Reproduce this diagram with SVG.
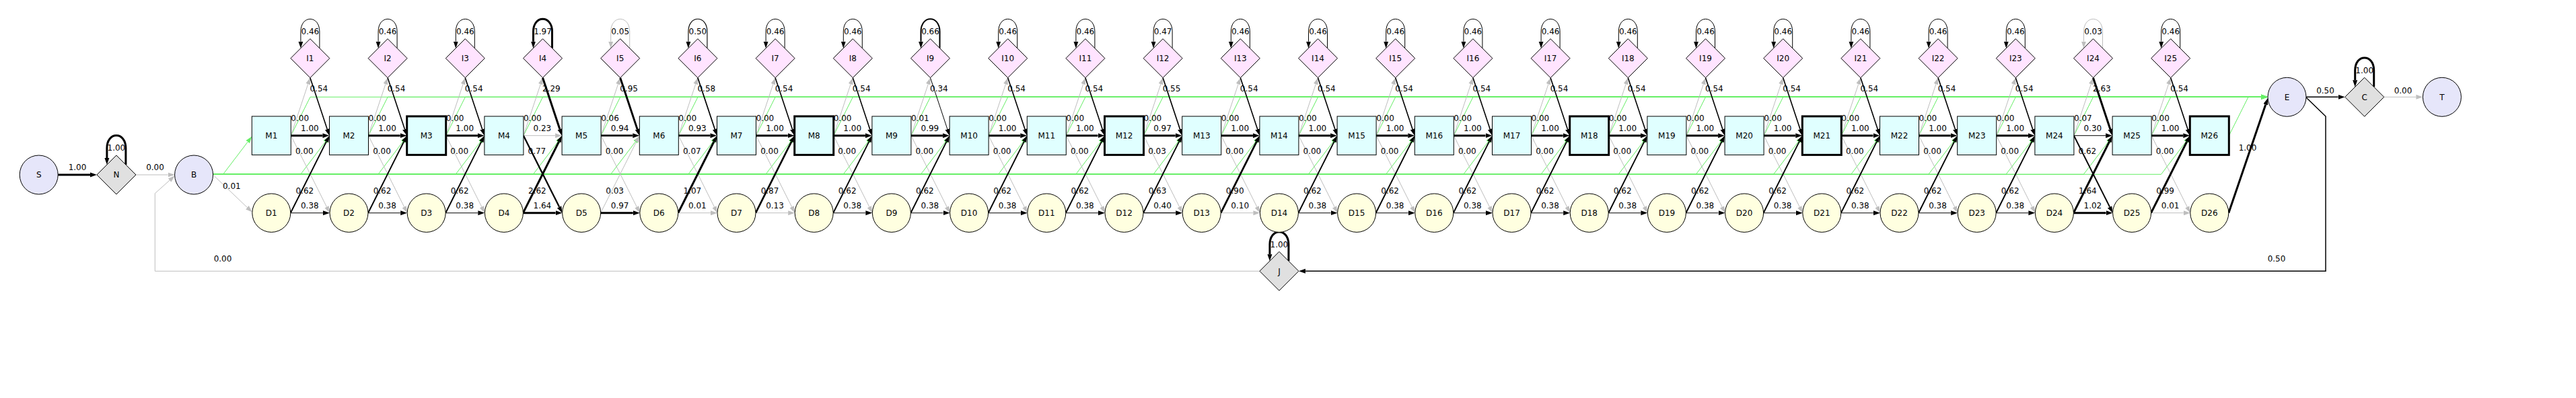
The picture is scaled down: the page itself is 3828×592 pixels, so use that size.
<svg xmlns="http://www.w3.org/2000/svg" width="3828" height="592" viewBox="0 0 3828 592">
<style>
text{font-family:"DejaVu Sans","Liberation Sans",sans-serif;font-size:12px;text-anchor:middle;fill:#000}
.c path{fill:none}
.bk{stroke:#000;marker-end:url(#ab)}
.gr{stroke:#bebebe;stroke-width:1;marker-end:url(#ag)}
.gn path{stroke:#66ee66;stroke-width:1;marker-end:url(#an)}
.m rect{fill:#e0ffff;stroke:#000;stroke-width:1}
.mb rect{stroke-width:3}
.d ellipse{fill:#ffffe0;stroke:#000;stroke-width:1}
.i polygon{fill:#ffe4ff;stroke:#000;stroke-width:1}
.l ellipse{fill:#e6e6fa;stroke:#000;stroke-width:1}
.x polygon{fill:#e0e0e0;stroke:#000;stroke-width:1}
</style>
<defs>
<marker id="ab" markerUnits="userSpaceOnUse" markerWidth="10" markerHeight="8" viewBox="0 -4 10 8" refX="0" refY="0" orient="auto"><path d="M0,-3.5 L10,0 L0,3.5 z" fill="#000"/></marker>
<marker id="ag" markerUnits="userSpaceOnUse" markerWidth="10" markerHeight="8" viewBox="0 -4 10 8" refX="0" refY="0" orient="auto"><path d="M0,-3.5 L10,0 L0,3.5 z" fill="#bebebe"/></marker>
<marker id="an" markerUnits="userSpaceOnUse" markerWidth="10" markerHeight="8" viewBox="0 -4 10 8" refX="0" refY="0" orient="auto"><path d="M0,-3.5 L10,0 L0,3.5 z" fill="#66ee66"/></marker>
</defs>
<rect width="3828" height="592" fill="#fff"/>
<g id="connectors" class="c">
<g id="green" class="gn">
<path d="M317.3,259.3 L331.5,259.3 L368.2,211"/><path d="M432.3,201.7 L461,144.3 L3360,144.3"/>
<path d="M317.3,259.3 L446.7,259.3 L483.4,211"/><path d="M547.5,201.7 L576.2,144.3 L3360,144.3"/>
<path d="M317.3,259.3 L561.9,259.3 L598.6,211"/><path d="M662.7,201.7 L691.4,144.3 L3360,144.3"/>
<path d="M317.3,259.3 L677.1,259.3 L713.8,211"/><path d="M777.9,201.7 L806.6,144.3 L3360,144.3"/>
<path d="M317.3,259.3 L792.3,259.3 L829,211"/><path d="M893.1,201.7 L921.8,144.3 L3360,144.3"/>
<path d="M317.3,259.3 L907.5,259.3 L944.2,211"/><path d="M1008.3,201.7 L1037,144.3 L3360,144.3"/>
<path d="M317.3,259.3 L1022.7,259.3 L1059.4,211"/><path d="M1123.5,201.7 L1152.2,144.3 L3360,144.3"/>
<path d="M317.3,259.3 L1137.9,259.3 L1174.6,211"/><path d="M1238.7,201.7 L1267.4,144.3 L3360,144.3"/>
<path d="M317.3,259.3 L1253.1,259.3 L1289.8,211"/><path d="M1353.9,201.7 L1382.6,144.3 L3360,144.3"/>
<path d="M317.3,259.3 L1368.3,259.3 L1405,211"/><path d="M1469.1,201.7 L1497.8,144.3 L3360,144.3"/>
<path d="M317.3,259.3 L1483.5,259.3 L1520.2,211"/><path d="M1584.3,201.7 L1613,144.3 L3360,144.3"/>
<path d="M317.3,259.3 L1598.7,259.3 L1635.4,211"/><path d="M1699.5,201.7 L1728.2,144.3 L3360,144.3"/>
<path d="M317.3,259.3 L1713.9,259.3 L1750.6,211"/><path d="M1814.7,201.7 L1843.4,144.3 L3360,144.3"/>
<path d="M317.3,259.3 L1829.1,259.3 L1865.8,211"/><path d="M1929.9,201.7 L1958.6,144.3 L3360,144.3"/>
<path d="M317.3,259.3 L1944.3,259.3 L1981,211"/><path d="M2045.1,201.7 L2073.8,144.3 L3360,144.3"/>
<path d="M317.3,259.3 L2059.5,259.3 L2096.2,211"/><path d="M2160.3,201.7 L2189,144.3 L3360,144.3"/>
<path d="M317.3,259.3 L2174.7,259.3 L2211.4,211"/><path d="M2275.5,201.7 L2304.2,144.3 L3360,144.3"/>
<path d="M317.3,259.3 L2289.9,259.3 L2326.6,211"/><path d="M2390.7,201.7 L2419.4,144.3 L3360,144.3"/>
<path d="M317.3,259.3 L2405.1,259.3 L2441.8,211"/><path d="M2505.9,201.7 L2534.6,144.3 L3360,144.3"/>
<path d="M317.3,259.3 L2520.3,259.3 L2557,211"/><path d="M2621.1,201.7 L2649.8,144.3 L3360,144.3"/>
<path d="M317.3,259.3 L2635.5,259.3 L2672.2,211"/><path d="M2736.3,201.7 L2765,144.3 L3360,144.3"/>
<path d="M317.3,259.3 L2750.7,259.3 L2787.4,211"/><path d="M2851.5,201.7 L2880.2,144.3 L3360,144.3"/>
<path d="M317.3,259.3 L2865.9,259.3 L2902.6,211"/><path d="M2966.7,201.7 L2995.4,144.3 L3360,144.3"/>
<path d="M317.3,259.3 L2981.1,259.3 L3017.8,211"/><path d="M3081.9,201.7 L3110.6,144.3 L3360,144.3"/>
<path d="M317.3,259.3 L3096.3,259.3 L3133,211"/><path d="M3197.1,201.7 L3225.8,144.3 L3360,144.3"/>
<path d="M317.3,259.3 L3211.5,259.3 L3248.2,211"/><path d="M3312.3,201.7 L3341,144.3 L3360,144.3"/>
</g>
<g id="S-N"><path class="bk" stroke-width="3" d="M86.2,260 L134,260"/><text x="115" y="252.7">1.00</text></g>
<g id="N-N" transform="translate(172.9,260)"><path class="bk" stroke-width="3" d="M14,-15 L14,-39.7 C14,-51.7 7.4,-58.4 0,-58.4 C-7.4,-58.4 -14,-51.7 -14,-39.7 L-14,-25"/><text y="-35.7">1.00</text></g>
<g id="N-B"><path class="gr" d="M201.9,260 L249.6,260"/><text x="230.5" y="252.7">0.00</text></g>
<g id="B-D1"><path class="gr" d="M318.3,261.7 L367.4,308.6"/><text x="344.3" y="281">0.01</text></g>
<g id="J-B"><path class="gr" d="M1871.9,403.3 L230.3,403.3 L230.3,287.7 L252.1,268.2"/><text x="331" y="388.7">0.00</text></g>
<g id="J-J" transform="translate(1900.9,403.3)"><path class="bk" stroke-width="3" d="M14,-15 L14,-39.7 C14,-51.7 7.4,-58.4 0,-58.4 C-7.4,-58.4 -14,-51.7 -14,-39.7 L-14,-25"/><text y="-35.7">1.00</text></g>
<g id="E-J"><path class="bk" stroke-width="1.5" d="M3427,145 L3456,173 L3456,403.3 L1939.9,403.3"/><text x="3383" y="388.7">0.50</text></g>
<g id="E-C"><path class="bk" stroke-width="1.5" d="M3427,144.3 L3474.7,144.3"/><text x="3455.5" y="139">0.50</text></g>
<g id="C-C" transform="translate(3513.7,144.3)"><path class="bk" stroke-width="3" d="M14,-15 L14,-39.7 C14,-51.7 7.4,-58.4 0,-58.4 C-7.4,-58.4 -14,-51.7 -14,-39.7 L-14,-25"/><text y="-35.7">1.00</text></g>
<g id="C-T"><path class="gr" d="M3542.7,144.3 L3590.4,144.3"/><text x="3571" y="139">0.00</text></g>
<g id="D26-E"><path class="bk" stroke-width="3" d="M3311.8,316.7 L3366.8,155.5"/><text x="3340" y="224.4">1.00</text></g>

<g id="col1" transform="translate(403.3,0)">
<path class="bk" stroke-width="1" d="M71.6,71.7 L71.6,47 C71.6,35 65,28.3 57.6,28.3 C50.2,28.3 43.6,35 43.6,47 L43.6,61.7"/><text x="57.6" y="51">0.46</text>
<path class="gr" d="M29,201.7 L54.4,125.2"/><text x="42.4" y="180">0.00</text>
<path class="gr" d="M29,201.7 L82.2,307.8"/><text x="49" y="228.7">0.00</text>
<path class="bk" stroke-width="3" d="M29,201.7 L76.2,201.7"/><text x="57" y="195">1.00</text>
<path class="bk" stroke-width="1.6" d="M57.6,115.7 L83,192.2"/><text x="70.5" y="136">0.54</text>
<path class="bk" stroke-width="1.9" d="M28.5,316.7 L81.7,210.6"/><text x="49.5" y="287.7">0.62</text>
<path class="bk" stroke-width="1.15" d="M28.5,316.7 L76.7,316.7"/><text x="57" y="309.7">0.38</text>
</g>
<g id="col2" transform="translate(518.5,0)">
<path class="bk" stroke-width="1" d="M71.6,71.7 L71.6,47 C71.6,35 65,28.3 57.6,28.3 C50.2,28.3 43.6,35 43.6,47 L43.6,61.7"/><text x="57.6" y="51">0.46</text>
<path class="gr" d="M29,201.7 L54.4,125.2"/><text x="42.4" y="180">0.00</text>
<path class="gr" d="M29,201.7 L82.2,307.8"/><text x="49" y="228.7">0.00</text>
<path class="bk" stroke-width="3" d="M29,201.7 L76.2,201.7"/><text x="57" y="195">1.00</text>
<path class="bk" stroke-width="1.6" d="M57.6,115.7 L83,192.2"/><text x="70.5" y="136">0.54</text>
<path class="bk" stroke-width="1.9" d="M28.5,316.7 L81.7,210.6"/><text x="49.5" y="287.7">0.62</text>
<path class="bk" stroke-width="1.15" d="M28.5,316.7 L76.7,316.7"/><text x="57" y="309.7">0.38</text>
</g>
<g id="col3" transform="translate(633.7,0)">
<path class="bk" stroke-width="1" d="M71.6,71.7 L71.6,47 C71.6,35 65,28.3 57.6,28.3 C50.2,28.3 43.6,35 43.6,47 L43.6,61.7"/><text x="57.6" y="51">0.46</text>
<path class="gr" d="M29,201.7 L54.4,125.2"/><text x="42.4" y="180">0.00</text>
<path class="gr" d="M29,201.7 L82.2,307.8"/><text x="49" y="228.7">0.00</text>
<path class="bk" stroke-width="3" d="M29,201.7 L76.2,201.7"/><text x="57" y="195">1.00</text>
<path class="bk" stroke-width="1.6" d="M57.6,115.7 L83,192.2"/><text x="70.5" y="136">0.54</text>
<path class="bk" stroke-width="1.9" d="M28.5,316.7 L81.7,210.6"/><text x="49.5" y="287.7">0.62</text>
<path class="bk" stroke-width="1.15" d="M28.5,316.7 L76.7,316.7"/><text x="57" y="309.7">0.38</text>
</g>
<g id="col4" transform="translate(748.9,0)">
<path class="bk" stroke-width="3" d="M71.6,71.7 L71.6,47 C71.6,35 65,28.3 57.6,28.3 C50.2,28.3 43.6,35 43.6,47 L43.6,61.7"/><text x="57.6" y="51">1.97</text>
<path class="gr" d="M29,201.7 L54.4,125.2"/><text x="42.4" y="180">0.00</text>
<path class="gr" d="M29,201.7 L76.2,201.7"/><text x="57" y="195">0.23</text>
<path class="bk" stroke-width="2.3" d="M29,201.7 L82.2,307.8"/><text x="49" y="228.7">0.77</text>
<path class="bk" stroke-width="3" d="M57.6,115.7 L83,192.2"/><text x="70.5" y="136">2.29</text>
<path class="bk" stroke-width="3" d="M28.5,316.7 L81.7,210.6"/><text x="49.5" y="287.7">2.62</text>
<path class="bk" stroke-width="3" d="M28.5,316.7 L76.7,316.7"/><text x="57" y="309.7">1.64</text>
</g>
<g id="col5" transform="translate(864.1,0)">
<path class="gr" d="M71.6,71.7 L71.6,47 C71.6,35 65,28.3 57.6,28.3 C50.2,28.3 43.6,35 43.6,47 L43.6,61.7"/><text x="57.6" y="51">0.05</text>
<path class="gr" d="M29,201.7 L54.4,125.2"/><text x="42.4" y="180">0.06</text>
<path class="gr" d="M29,201.7 L82.2,307.8"/><text x="49" y="228.7">0.00</text>
<path class="gr" d="M28.5,316.7 L81.7,210.6"/><text x="49.5" y="287.7">0.03</text>
<path class="bk" stroke-width="2.8" d="M29,201.7 L76.2,201.7"/><text x="57" y="195">0.94</text>
<path class="bk" stroke-width="2.85" d="M57.6,115.7 L83,192.2"/><text x="70.5" y="136">0.95</text>
<path class="bk" stroke-width="2.9" d="M28.5,316.7 L76.7,316.7"/><text x="57" y="309.7">0.97</text>
</g>
<g id="col6" transform="translate(979.3,0)">
<path class="bk" stroke-width="1.1" d="M71.6,71.7 L71.6,47 C71.6,35 65,28.3 57.6,28.3 C50.2,28.3 43.6,35 43.6,47 L43.6,61.7"/><text x="57.6" y="51">0.50</text>
<path class="gr" d="M29,201.7 L54.4,125.2"/><text x="42.4" y="180">0.00</text>
<path class="gr" d="M29,201.7 L82.2,307.8"/><text x="49" y="228.7">0.07</text>
<path class="gr" d="M28.5,316.7 L76.7,316.7"/><text x="57" y="309.7">0.01</text>
<path class="bk" stroke-width="2.8" d="M29,201.7 L76.2,201.7"/><text x="57" y="195">0.93</text>
<path class="bk" stroke-width="1.75" d="M57.6,115.7 L83,192.2"/><text x="70.5" y="136">0.58</text>
<path class="bk" stroke-width="3" d="M28.5,316.7 L81.7,210.6"/><text x="49.5" y="287.7">1.07</text>
</g>
<g id="col7" transform="translate(1094.5,0)">
<path class="bk" stroke-width="1" d="M71.6,71.7 L71.6,47 C71.6,35 65,28.3 57.6,28.3 C50.2,28.3 43.6,35 43.6,47 L43.6,61.7"/><text x="57.6" y="51">0.46</text>
<path class="gr" d="M29,201.7 L54.4,125.2"/><text x="42.4" y="180">0.00</text>
<path class="gr" d="M29,201.7 L82.2,307.8"/><text x="49" y="228.7">0.00</text>
<path class="gr" d="M28.5,316.7 L76.7,316.7"/><text x="57" y="309.7">0.13</text>
<path class="bk" stroke-width="3" d="M29,201.7 L76.2,201.7"/><text x="57" y="195">1.00</text>
<path class="bk" stroke-width="1.6" d="M57.6,115.7 L83,192.2"/><text x="70.5" y="136">0.54</text>
<path class="bk" stroke-width="2.6" d="M28.5,316.7 L81.7,210.6"/><text x="49.5" y="287.7">0.87</text>
</g>
<g id="col8" transform="translate(1209.7,0)">
<path class="bk" stroke-width="1" d="M71.6,71.7 L71.6,47 C71.6,35 65,28.3 57.6,28.3 C50.2,28.3 43.6,35 43.6,47 L43.6,61.7"/><text x="57.6" y="51">0.46</text>
<path class="gr" d="M29,201.7 L54.4,125.2"/><text x="42.4" y="180">0.00</text>
<path class="gr" d="M29,201.7 L82.2,307.8"/><text x="49" y="228.7">0.00</text>
<path class="bk" stroke-width="3" d="M29,201.7 L76.2,201.7"/><text x="57" y="195">1.00</text>
<path class="bk" stroke-width="1.6" d="M57.6,115.7 L83,192.2"/><text x="70.5" y="136">0.54</text>
<path class="bk" stroke-width="1.9" d="M28.5,316.7 L81.7,210.6"/><text x="49.5" y="287.7">0.62</text>
<path class="bk" stroke-width="1.15" d="M28.5,316.7 L76.7,316.7"/><text x="57" y="309.7">0.38</text>
</g>
<g id="col9" transform="translate(1324.9,0)">
<path class="bk" stroke-width="2" d="M71.6,71.7 L71.6,47 C71.6,35 65,28.3 57.6,28.3 C50.2,28.3 43.6,35 43.6,47 L43.6,61.7"/><text x="57.6" y="51">0.66</text>
<path class="gr" d="M29,201.7 L54.4,125.2"/><text x="42.4" y="180">0.01</text>
<path class="gr" d="M29,201.7 L82.2,307.8"/><text x="49" y="228.7">0.00</text>
<path class="bk" stroke-width="3" d="M29,201.7 L76.2,201.7"/><text x="57" y="195">0.99</text>
<path class="bk" stroke-width="1" d="M57.6,115.7 L83,192.2"/><text x="70.5" y="136">0.34</text>
<path class="bk" stroke-width="1.9" d="M28.5,316.7 L81.7,210.6"/><text x="49.5" y="287.7">0.62</text>
<path class="bk" stroke-width="1.15" d="M28.5,316.7 L76.7,316.7"/><text x="57" y="309.7">0.38</text>
</g>
<g id="col10" transform="translate(1440.1,0)">
<path class="bk" stroke-width="1" d="M71.6,71.7 L71.6,47 C71.6,35 65,28.3 57.6,28.3 C50.2,28.3 43.6,35 43.6,47 L43.6,61.7"/><text x="57.6" y="51">0.46</text>
<path class="gr" d="M29,201.7 L54.4,125.2"/><text x="42.4" y="180">0.00</text>
<path class="gr" d="M29,201.7 L82.2,307.8"/><text x="49" y="228.7">0.00</text>
<path class="bk" stroke-width="3" d="M29,201.7 L76.2,201.7"/><text x="57" y="195">1.00</text>
<path class="bk" stroke-width="1.6" d="M57.6,115.7 L83,192.2"/><text x="70.5" y="136">0.54</text>
<path class="bk" stroke-width="1.9" d="M28.5,316.7 L81.7,210.6"/><text x="49.5" y="287.7">0.62</text>
<path class="bk" stroke-width="1.15" d="M28.5,316.7 L76.7,316.7"/><text x="57" y="309.7">0.38</text>
</g>
<g id="col11" transform="translate(1555.3,0)">
<path class="bk" stroke-width="1" d="M71.6,71.7 L71.6,47 C71.6,35 65,28.3 57.6,28.3 C50.2,28.3 43.6,35 43.6,47 L43.6,61.7"/><text x="57.6" y="51">0.46</text>
<path class="gr" d="M29,201.7 L54.4,125.2"/><text x="42.4" y="180">0.00</text>
<path class="gr" d="M29,201.7 L82.2,307.8"/><text x="49" y="228.7">0.00</text>
<path class="bk" stroke-width="3" d="M29,201.7 L76.2,201.7"/><text x="57" y="195">1.00</text>
<path class="bk" stroke-width="1.6" d="M57.6,115.7 L83,192.2"/><text x="70.5" y="136">0.54</text>
<path class="bk" stroke-width="1.9" d="M28.5,316.7 L81.7,210.6"/><text x="49.5" y="287.7">0.62</text>
<path class="bk" stroke-width="1.15" d="M28.5,316.7 L76.7,316.7"/><text x="57" y="309.7">0.38</text>
</g>
<g id="col12" transform="translate(1670.5,0)">
<path class="bk" stroke-width="1" d="M71.6,71.7 L71.6,47 C71.6,35 65,28.3 57.6,28.3 C50.2,28.3 43.6,35 43.6,47 L43.6,61.7"/><text x="57.6" y="51">0.47</text>
<path class="gr" d="M29,201.7 L54.4,125.2"/><text x="42.4" y="180">0.00</text>
<path class="gr" d="M29,201.7 L82.2,307.8"/><text x="49" y="228.7">0.03</text>
<path class="bk" stroke-width="2.9" d="M29,201.7 L76.2,201.7"/><text x="57" y="195">0.97</text>
<path class="bk" stroke-width="1.65" d="M57.6,115.7 L83,192.2"/><text x="70.5" y="136">0.55</text>
<path class="bk" stroke-width="1.9" d="M28.5,316.7 L81.7,210.6"/><text x="49.5" y="287.7">0.63</text>
<path class="bk" stroke-width="1.2" d="M28.5,316.7 L76.7,316.7"/><text x="57" y="309.7">0.40</text>
</g>
<g id="col13" transform="translate(1785.7,0)">
<path class="bk" stroke-width="1" d="M71.6,71.7 L71.6,47 C71.6,35 65,28.3 57.6,28.3 C50.2,28.3 43.6,35 43.6,47 L43.6,61.7"/><text x="57.6" y="51">0.46</text>
<path class="gr" d="M29,201.7 L54.4,125.2"/><text x="42.4" y="180">0.00</text>
<path class="gr" d="M29,201.7 L82.2,307.8"/><text x="49" y="228.7">0.00</text>
<path class="gr" d="M28.5,316.7 L76.7,316.7"/><text x="57" y="309.7">0.10</text>
<path class="bk" stroke-width="3" d="M29,201.7 L76.2,201.7"/><text x="57" y="195">1.00</text>
<path class="bk" stroke-width="1.6" d="M57.6,115.7 L83,192.2"/><text x="70.5" y="136">0.54</text>
<path class="bk" stroke-width="2.7" d="M28.5,316.7 L81.7,210.6"/><text x="49.5" y="287.7">0.90</text>
</g>
<g id="col14" transform="translate(1900.9,0)">
<path class="bk" stroke-width="1" d="M71.6,71.7 L71.6,47 C71.6,35 65,28.3 57.6,28.3 C50.2,28.3 43.6,35 43.6,47 L43.6,61.7"/><text x="57.6" y="51">0.46</text>
<path class="gr" d="M29,201.7 L54.4,125.2"/><text x="42.4" y="180">0.00</text>
<path class="gr" d="M29,201.7 L82.2,307.8"/><text x="49" y="228.7">0.00</text>
<path class="bk" stroke-width="3" d="M29,201.7 L76.2,201.7"/><text x="57" y="195">1.00</text>
<path class="bk" stroke-width="1.6" d="M57.6,115.7 L83,192.2"/><text x="70.5" y="136">0.54</text>
<path class="bk" stroke-width="1.9" d="M28.5,316.7 L81.7,210.6"/><text x="49.5" y="287.7">0.62</text>
<path class="bk" stroke-width="1.15" d="M28.5,316.7 L76.7,316.7"/><text x="57" y="309.7">0.38</text>
</g>
<g id="col15" transform="translate(2016.1,0)">
<path class="bk" stroke-width="1" d="M71.6,71.7 L71.6,47 C71.6,35 65,28.3 57.6,28.3 C50.2,28.3 43.6,35 43.6,47 L43.6,61.7"/><text x="57.6" y="51">0.46</text>
<path class="gr" d="M29,201.7 L54.4,125.2"/><text x="42.4" y="180">0.00</text>
<path class="gr" d="M29,201.7 L82.2,307.8"/><text x="49" y="228.7">0.00</text>
<path class="bk" stroke-width="3" d="M29,201.7 L76.2,201.7"/><text x="57" y="195">1.00</text>
<path class="bk" stroke-width="1.6" d="M57.6,115.7 L83,192.2"/><text x="70.5" y="136">0.54</text>
<path class="bk" stroke-width="1.9" d="M28.5,316.7 L81.7,210.6"/><text x="49.5" y="287.7">0.62</text>
<path class="bk" stroke-width="1.15" d="M28.5,316.7 L76.7,316.7"/><text x="57" y="309.7">0.38</text>
</g>
<g id="col16" transform="translate(2131.3,0)">
<path class="bk" stroke-width="1" d="M71.6,71.7 L71.6,47 C71.6,35 65,28.3 57.6,28.3 C50.2,28.3 43.6,35 43.6,47 L43.6,61.7"/><text x="57.6" y="51">0.46</text>
<path class="gr" d="M29,201.7 L54.4,125.2"/><text x="42.4" y="180">0.00</text>
<path class="gr" d="M29,201.7 L82.2,307.8"/><text x="49" y="228.7">0.00</text>
<path class="bk" stroke-width="3" d="M29,201.7 L76.2,201.7"/><text x="57" y="195">1.00</text>
<path class="bk" stroke-width="1.6" d="M57.6,115.7 L83,192.2"/><text x="70.5" y="136">0.54</text>
<path class="bk" stroke-width="1.9" d="M28.5,316.7 L81.7,210.6"/><text x="49.5" y="287.7">0.62</text>
<path class="bk" stroke-width="1.15" d="M28.5,316.7 L76.7,316.7"/><text x="57" y="309.7">0.38</text>
</g>
<g id="col17" transform="translate(2246.5,0)">
<path class="bk" stroke-width="1" d="M71.6,71.7 L71.6,47 C71.6,35 65,28.3 57.6,28.3 C50.2,28.3 43.6,35 43.6,47 L43.6,61.7"/><text x="57.6" y="51">0.46</text>
<path class="gr" d="M29,201.7 L54.4,125.2"/><text x="42.4" y="180">0.00</text>
<path class="gr" d="M29,201.7 L82.2,307.8"/><text x="49" y="228.7">0.00</text>
<path class="bk" stroke-width="3" d="M29,201.7 L76.2,201.7"/><text x="57" y="195">1.00</text>
<path class="bk" stroke-width="1.6" d="M57.6,115.7 L83,192.2"/><text x="70.5" y="136">0.54</text>
<path class="bk" stroke-width="1.9" d="M28.5,316.7 L81.7,210.6"/><text x="49.5" y="287.7">0.62</text>
<path class="bk" stroke-width="1.15" d="M28.5,316.7 L76.7,316.7"/><text x="57" y="309.7">0.38</text>
</g>
<g id="col18" transform="translate(2361.7,0)">
<path class="bk" stroke-width="1" d="M71.6,71.7 L71.6,47 C71.6,35 65,28.3 57.6,28.3 C50.2,28.3 43.6,35 43.6,47 L43.6,61.7"/><text x="57.6" y="51">0.46</text>
<path class="gr" d="M29,201.7 L54.4,125.2"/><text x="42.4" y="180">0.00</text>
<path class="gr" d="M29,201.7 L82.2,307.8"/><text x="49" y="228.7">0.00</text>
<path class="bk" stroke-width="3" d="M29,201.7 L76.2,201.7"/><text x="57" y="195">1.00</text>
<path class="bk" stroke-width="1.6" d="M57.6,115.7 L83,192.2"/><text x="70.5" y="136">0.54</text>
<path class="bk" stroke-width="1.9" d="M28.5,316.7 L81.7,210.6"/><text x="49.5" y="287.7">0.62</text>
<path class="bk" stroke-width="1.15" d="M28.5,316.7 L76.7,316.7"/><text x="57" y="309.7">0.38</text>
</g>
<g id="col19" transform="translate(2476.9,0)">
<path class="bk" stroke-width="1" d="M71.6,71.7 L71.6,47 C71.6,35 65,28.3 57.6,28.3 C50.2,28.3 43.6,35 43.6,47 L43.6,61.7"/><text x="57.6" y="51">0.46</text>
<path class="gr" d="M29,201.7 L54.4,125.2"/><text x="42.4" y="180">0.00</text>
<path class="gr" d="M29,201.7 L82.2,307.8"/><text x="49" y="228.7">0.00</text>
<path class="bk" stroke-width="3" d="M29,201.7 L76.2,201.7"/><text x="57" y="195">1.00</text>
<path class="bk" stroke-width="1.6" d="M57.6,115.7 L83,192.2"/><text x="70.5" y="136">0.54</text>
<path class="bk" stroke-width="1.9" d="M28.5,316.7 L81.7,210.6"/><text x="49.5" y="287.7">0.62</text>
<path class="bk" stroke-width="1.15" d="M28.5,316.7 L76.7,316.7"/><text x="57" y="309.7">0.38</text>
</g>
<g id="col20" transform="translate(2592.1,0)">
<path class="bk" stroke-width="1" d="M71.6,71.7 L71.6,47 C71.6,35 65,28.3 57.6,28.3 C50.2,28.3 43.6,35 43.6,47 L43.6,61.7"/><text x="57.6" y="51">0.46</text>
<path class="gr" d="M29,201.7 L54.4,125.2"/><text x="42.4" y="180">0.00</text>
<path class="gr" d="M29,201.7 L82.2,307.8"/><text x="49" y="228.7">0.00</text>
<path class="bk" stroke-width="3" d="M29,201.7 L76.2,201.7"/><text x="57" y="195">1.00</text>
<path class="bk" stroke-width="1.6" d="M57.6,115.7 L83,192.2"/><text x="70.5" y="136">0.54</text>
<path class="bk" stroke-width="1.9" d="M28.5,316.7 L81.7,210.6"/><text x="49.5" y="287.7">0.62</text>
<path class="bk" stroke-width="1.15" d="M28.5,316.7 L76.7,316.7"/><text x="57" y="309.7">0.38</text>
</g>
<g id="col21" transform="translate(2707.3,0)">
<path class="bk" stroke-width="1" d="M71.6,71.7 L71.6,47 C71.6,35 65,28.3 57.6,28.3 C50.2,28.3 43.6,35 43.6,47 L43.6,61.7"/><text x="57.6" y="51">0.46</text>
<path class="gr" d="M29,201.7 L54.4,125.2"/><text x="42.4" y="180">0.00</text>
<path class="gr" d="M29,201.7 L82.2,307.8"/><text x="49" y="228.7">0.00</text>
<path class="bk" stroke-width="3" d="M29,201.7 L76.2,201.7"/><text x="57" y="195">1.00</text>
<path class="bk" stroke-width="1.6" d="M57.6,115.7 L83,192.2"/><text x="70.5" y="136">0.54</text>
<path class="bk" stroke-width="1.9" d="M28.5,316.7 L81.7,210.6"/><text x="49.5" y="287.7">0.62</text>
<path class="bk" stroke-width="1.15" d="M28.5,316.7 L76.7,316.7"/><text x="57" y="309.7">0.38</text>
</g>
<g id="col22" transform="translate(2822.5,0)">
<path class="bk" stroke-width="1" d="M71.6,71.7 L71.6,47 C71.6,35 65,28.3 57.6,28.3 C50.2,28.3 43.6,35 43.6,47 L43.6,61.7"/><text x="57.6" y="51">0.46</text>
<path class="gr" d="M29,201.7 L54.4,125.2"/><text x="42.4" y="180">0.00</text>
<path class="gr" d="M29,201.7 L82.2,307.8"/><text x="49" y="228.7">0.00</text>
<path class="bk" stroke-width="3" d="M29,201.7 L76.2,201.7"/><text x="57" y="195">1.00</text>
<path class="bk" stroke-width="1.6" d="M57.6,115.7 L83,192.2"/><text x="70.5" y="136">0.54</text>
<path class="bk" stroke-width="1.9" d="M28.5,316.7 L81.7,210.6"/><text x="49.5" y="287.7">0.62</text>
<path class="bk" stroke-width="1.15" d="M28.5,316.7 L76.7,316.7"/><text x="57" y="309.7">0.38</text>
</g>
<g id="col23" transform="translate(2937.7,0)">
<path class="bk" stroke-width="1" d="M71.6,71.7 L71.6,47 C71.6,35 65,28.3 57.6,28.3 C50.2,28.3 43.6,35 43.6,47 L43.6,61.7"/><text x="57.6" y="51">0.46</text>
<path class="gr" d="M29,201.7 L54.4,125.2"/><text x="42.4" y="180">0.00</text>
<path class="gr" d="M29,201.7 L82.2,307.8"/><text x="49" y="228.7">0.00</text>
<path class="bk" stroke-width="3" d="M29,201.7 L76.2,201.7"/><text x="57" y="195">1.00</text>
<path class="bk" stroke-width="1.6" d="M57.6,115.7 L83,192.2"/><text x="70.5" y="136">0.54</text>
<path class="bk" stroke-width="1.9" d="M28.5,316.7 L81.7,210.6"/><text x="49.5" y="287.7">0.62</text>
<path class="bk" stroke-width="1.15" d="M28.5,316.7 L76.7,316.7"/><text x="57" y="309.7">0.38</text>
</g>
<g id="col24" transform="translate(3052.9,0)">
<path class="gr" d="M71.6,71.7 L71.6,47 C71.6,35 65,28.3 57.6,28.3 C50.2,28.3 43.6,35 43.6,47 L43.6,61.7"/><text x="57.6" y="51">0.03</text>
<path class="gr" d="M29,201.7 L54.4,125.2"/><text x="42.4" y="180">0.07</text>
<path class="bk" stroke-width="1" d="M29,201.7 L76.2,201.7"/><text x="57" y="195">0.30</text>
<path class="bk" stroke-width="1.9" d="M29,201.7 L82.2,307.8"/><text x="49" y="228.7">0.62</text>
<path class="bk" stroke-width="3" d="M57.6,115.7 L83,192.2"/><text x="70.5" y="136">2.63</text>
<path class="bk" stroke-width="3" d="M28.5,316.7 L81.7,210.6"/><text x="49.5" y="287.7">1.64</text>
<path class="bk" stroke-width="3" d="M28.5,316.7 L76.7,316.7"/><text x="57" y="309.7">1.02</text>
</g>
<g id="col25" transform="translate(3168.1,0)">
<path class="bk" stroke-width="1" d="M71.6,71.7 L71.6,47 C71.6,35 65,28.3 57.6,28.3 C50.2,28.3 43.6,35 43.6,47 L43.6,61.7"/><text x="57.6" y="51">0.46</text>
<path class="gr" d="M29,201.7 L54.4,125.2"/><text x="42.4" y="180">0.00</text>
<path class="gr" d="M29,201.7 L82.2,307.8"/><text x="49" y="228.7">0.00</text>
<path class="gr" d="M28.5,316.7 L76.7,316.7"/><text x="57" y="309.7">0.01</text>
<path class="bk" stroke-width="3" d="M29,201.7 L76.2,201.7"/><text x="57" y="195">1.00</text>
<path class="bk" stroke-width="1.6" d="M57.6,115.7 L83,192.2"/><text x="70.5" y="136">0.54</text>
<path class="bk" stroke-width="3" d="M28.5,316.7 L81.7,210.6"/><text x="49.5" y="287.7">0.99</text>
</g>
</g>

<g id="nodes">
<g id="S" class="l" transform="translate(57.7,260)"><ellipse rx="28.5" ry="29"/><text y="4.4">S</text></g>
<g id="N" class="x" transform="translate(172.9,260)"><polygon points="0,-29 29,0 0,29 -29,0"/><text y="4.4">N</text></g>
<g id="B" class="l" transform="translate(288.1,260)"><ellipse rx="28.5" ry="29"/><text y="4.4">B</text></g>
<g id="E" class="l" transform="translate(3398.5,144.3)"><ellipse rx="28.5" ry="29"/><text y="4.4">E</text></g>
<g id="C" class="x" transform="translate(3513.7,144.3)"><polygon points="0,-29 29,0 0,29 -29,0"/><text y="4.4">C</text></g>
<g id="T" class="l" transform="translate(3628.9,144.3)"><ellipse rx="28.5" ry="29"/><text y="4.4">T</text></g>
<g id="J" class="x" transform="translate(1900.9,403.3)"><polygon points="0,-29 29,0 0,29 -29,0"/><text y="4.4">J</text></g>

<g id="M1" class="m" transform="translate(403.3,201.7)"><rect x="-29" y="-28.7" width="58" height="57.4"/><text y="4.4">M1</text></g>
<g id="M2" class="m" transform="translate(518.5,201.7)"><rect x="-29" y="-28.7" width="58" height="57.4"/><text y="4.4">M2</text></g>
<g id="M3" class="m mb" transform="translate(633.7,201.7)"><rect x="-29" y="-28.7" width="58" height="57.4"/><text y="4.4">M3</text></g>
<g id="M4" class="m" transform="translate(748.9,201.7)"><rect x="-29" y="-28.7" width="58" height="57.4"/><text y="4.4">M4</text></g>
<g id="M5" class="m" transform="translate(864.1,201.7)"><rect x="-29" y="-28.7" width="58" height="57.4"/><text y="4.4">M5</text></g>
<g id="M6" class="m" transform="translate(979.3,201.7)"><rect x="-29" y="-28.7" width="58" height="57.4"/><text y="4.4">M6</text></g>
<g id="M7" class="m" transform="translate(1094.5,201.7)"><rect x="-29" y="-28.7" width="58" height="57.4"/><text y="4.4">M7</text></g>
<g id="M8" class="m mb" transform="translate(1209.7,201.7)"><rect x="-29" y="-28.7" width="58" height="57.4"/><text y="4.4">M8</text></g>
<g id="M9" class="m" transform="translate(1324.9,201.7)"><rect x="-29" y="-28.7" width="58" height="57.4"/><text y="4.4">M9</text></g>
<g id="M10" class="m" transform="translate(1440.1,201.7)"><rect x="-29" y="-28.7" width="58" height="57.4"/><text y="4.4">M10</text></g>
<g id="M11" class="m" transform="translate(1555.3,201.7)"><rect x="-29" y="-28.7" width="58" height="57.4"/><text y="4.4">M11</text></g>
<g id="M12" class="m mb" transform="translate(1670.5,201.7)"><rect x="-29" y="-28.7" width="58" height="57.4"/><text y="4.4">M12</text></g>
<g id="M13" class="m" transform="translate(1785.7,201.7)"><rect x="-29" y="-28.7" width="58" height="57.4"/><text y="4.4">M13</text></g>
<g id="M14" class="m" transform="translate(1900.9,201.7)"><rect x="-29" y="-28.7" width="58" height="57.4"/><text y="4.4">M14</text></g>
<g id="M15" class="m" transform="translate(2016.1,201.7)"><rect x="-29" y="-28.7" width="58" height="57.4"/><text y="4.4">M15</text></g>
<g id="M16" class="m" transform="translate(2131.3,201.7)"><rect x="-29" y="-28.7" width="58" height="57.4"/><text y="4.4">M16</text></g>
<g id="M17" class="m" transform="translate(2246.5,201.7)"><rect x="-29" y="-28.7" width="58" height="57.4"/><text y="4.4">M17</text></g>
<g id="M18" class="m mb" transform="translate(2361.7,201.7)"><rect x="-29" y="-28.7" width="58" height="57.4"/><text y="4.4">M18</text></g>
<g id="M19" class="m" transform="translate(2476.9,201.7)"><rect x="-29" y="-28.7" width="58" height="57.4"/><text y="4.4">M19</text></g>
<g id="M20" class="m" transform="translate(2592.1,201.7)"><rect x="-29" y="-28.7" width="58" height="57.4"/><text y="4.4">M20</text></g>
<g id="M21" class="m mb" transform="translate(2707.3,201.7)"><rect x="-29" y="-28.7" width="58" height="57.4"/><text y="4.4">M21</text></g>
<g id="M22" class="m" transform="translate(2822.5,201.7)"><rect x="-29" y="-28.7" width="58" height="57.4"/><text y="4.4">M22</text></g>
<g id="M23" class="m" transform="translate(2937.7,201.7)"><rect x="-29" y="-28.7" width="58" height="57.4"/><text y="4.4">M23</text></g>
<g id="M24" class="m" transform="translate(3052.9,201.7)"><rect x="-29" y="-28.7" width="58" height="57.4"/><text y="4.4">M24</text></g>
<g id="M25" class="m" transform="translate(3168.1,201.7)"><rect x="-29" y="-28.7" width="58" height="57.4"/><text y="4.4">M25</text></g>
<g id="M26" class="m mb" transform="translate(3283.3,201.7)"><rect x="-29" y="-28.7" width="58" height="57.4"/><text y="4.4">M26</text></g>

<g id="D1" class="d" transform="translate(403.3,316.7)"><ellipse rx="28.5" ry="28.7"/><text y="4.4">D1</text></g>
<g id="D2" class="d" transform="translate(518.5,316.7)"><ellipse rx="28.5" ry="28.7"/><text y="4.4">D2</text></g>
<g id="D3" class="d" transform="translate(633.7,316.7)"><ellipse rx="28.5" ry="28.7"/><text y="4.4">D3</text></g>
<g id="D4" class="d" transform="translate(748.9,316.7)"><ellipse rx="28.5" ry="28.7"/><text y="4.4">D4</text></g>
<g id="D5" class="d" transform="translate(864.1,316.7)"><ellipse rx="28.5" ry="28.7"/><text y="4.4">D5</text></g>
<g id="D6" class="d" transform="translate(979.3,316.7)"><ellipse rx="28.5" ry="28.7"/><text y="4.4">D6</text></g>
<g id="D7" class="d" transform="translate(1094.5,316.7)"><ellipse rx="28.5" ry="28.7"/><text y="4.4">D7</text></g>
<g id="D8" class="d" transform="translate(1209.7,316.7)"><ellipse rx="28.5" ry="28.7"/><text y="4.4">D8</text></g>
<g id="D9" class="d" transform="translate(1324.9,316.7)"><ellipse rx="28.5" ry="28.7"/><text y="4.4">D9</text></g>
<g id="D10" class="d" transform="translate(1440.1,316.7)"><ellipse rx="28.5" ry="28.7"/><text y="4.4">D10</text></g>
<g id="D11" class="d" transform="translate(1555.3,316.7)"><ellipse rx="28.5" ry="28.7"/><text y="4.4">D11</text></g>
<g id="D12" class="d" transform="translate(1670.5,316.7)"><ellipse rx="28.5" ry="28.7"/><text y="4.4">D12</text></g>
<g id="D13" class="d" transform="translate(1785.7,316.7)"><ellipse rx="28.5" ry="28.7"/><text y="4.4">D13</text></g>
<g id="D14" class="d" transform="translate(1900.9,316.7)"><ellipse rx="28.5" ry="28.7"/><text y="4.4">D14</text></g>
<g id="D15" class="d" transform="translate(2016.1,316.7)"><ellipse rx="28.5" ry="28.7"/><text y="4.4">D15</text></g>
<g id="D16" class="d" transform="translate(2131.3,316.7)"><ellipse rx="28.5" ry="28.7"/><text y="4.4">D16</text></g>
<g id="D17" class="d" transform="translate(2246.5,316.7)"><ellipse rx="28.5" ry="28.7"/><text y="4.4">D17</text></g>
<g id="D18" class="d" transform="translate(2361.7,316.7)"><ellipse rx="28.5" ry="28.7"/><text y="4.4">D18</text></g>
<g id="D19" class="d" transform="translate(2476.9,316.7)"><ellipse rx="28.5" ry="28.7"/><text y="4.4">D19</text></g>
<g id="D20" class="d" transform="translate(2592.1,316.7)"><ellipse rx="28.5" ry="28.7"/><text y="4.4">D20</text></g>
<g id="D21" class="d" transform="translate(2707.3,316.7)"><ellipse rx="28.5" ry="28.7"/><text y="4.4">D21</text></g>
<g id="D22" class="d" transform="translate(2822.5,316.7)"><ellipse rx="28.5" ry="28.7"/><text y="4.4">D22</text></g>
<g id="D23" class="d" transform="translate(2937.7,316.7)"><ellipse rx="28.5" ry="28.7"/><text y="4.4">D23</text></g>
<g id="D24" class="d" transform="translate(3052.9,316.7)"><ellipse rx="28.5" ry="28.7"/><text y="4.4">D24</text></g>
<g id="D25" class="d" transform="translate(3168.1,316.7)"><ellipse rx="28.5" ry="28.7"/><text y="4.4">D25</text></g>
<g id="D26" class="d" transform="translate(3283.3,316.7)"><ellipse rx="28.5" ry="28.7"/><text y="4.4">D26</text></g>

<g id="I1" class="i" transform="translate(460.9,86.7)"><polygon points="0,-29 29,0 0,29 -29,0"/><text y="4.4">I1</text></g>
<g id="I2" class="i" transform="translate(576.1,86.7)"><polygon points="0,-29 29,0 0,29 -29,0"/><text y="4.4">I2</text></g>
<g id="I3" class="i" transform="translate(691.3,86.7)"><polygon points="0,-29 29,0 0,29 -29,0"/><text y="4.4">I3</text></g>
<g id="I4" class="i" transform="translate(806.5,86.7)"><polygon points="0,-29 29,0 0,29 -29,0"/><text y="4.4">I4</text></g>
<g id="I5" class="i" transform="translate(921.7,86.7)"><polygon points="0,-29 29,0 0,29 -29,0"/><text y="4.4">I5</text></g>
<g id="I6" class="i" transform="translate(1036.9,86.7)"><polygon points="0,-29 29,0 0,29 -29,0"/><text y="4.4">I6</text></g>
<g id="I7" class="i" transform="translate(1152.1,86.7)"><polygon points="0,-29 29,0 0,29 -29,0"/><text y="4.4">I7</text></g>
<g id="I8" class="i" transform="translate(1267.3,86.7)"><polygon points="0,-29 29,0 0,29 -29,0"/><text y="4.4">I8</text></g>
<g id="I9" class="i" transform="translate(1382.5,86.7)"><polygon points="0,-29 29,0 0,29 -29,0"/><text y="4.4">I9</text></g>
<g id="I10" class="i" transform="translate(1497.7,86.7)"><polygon points="0,-29 29,0 0,29 -29,0"/><text y="4.4">I10</text></g>
<g id="I11" class="i" transform="translate(1612.9,86.7)"><polygon points="0,-29 29,0 0,29 -29,0"/><text y="4.4">I11</text></g>
<g id="I12" class="i" transform="translate(1728.1,86.7)"><polygon points="0,-29 29,0 0,29 -29,0"/><text y="4.4">I12</text></g>
<g id="I13" class="i" transform="translate(1843.3,86.7)"><polygon points="0,-29 29,0 0,29 -29,0"/><text y="4.4">I13</text></g>
<g id="I14" class="i" transform="translate(1958.5,86.7)"><polygon points="0,-29 29,0 0,29 -29,0"/><text y="4.4">I14</text></g>
<g id="I15" class="i" transform="translate(2073.7,86.7)"><polygon points="0,-29 29,0 0,29 -29,0"/><text y="4.4">I15</text></g>
<g id="I16" class="i" transform="translate(2188.9,86.7)"><polygon points="0,-29 29,0 0,29 -29,0"/><text y="4.4">I16</text></g>
<g id="I17" class="i" transform="translate(2304.1,86.7)"><polygon points="0,-29 29,0 0,29 -29,0"/><text y="4.4">I17</text></g>
<g id="I18" class="i" transform="translate(2419.3,86.7)"><polygon points="0,-29 29,0 0,29 -29,0"/><text y="4.4">I18</text></g>
<g id="I19" class="i" transform="translate(2534.5,86.7)"><polygon points="0,-29 29,0 0,29 -29,0"/><text y="4.4">I19</text></g>
<g id="I20" class="i" transform="translate(2649.7,86.7)"><polygon points="0,-29 29,0 0,29 -29,0"/><text y="4.4">I20</text></g>
<g id="I21" class="i" transform="translate(2764.9,86.7)"><polygon points="0,-29 29,0 0,29 -29,0"/><text y="4.4">I21</text></g>
<g id="I22" class="i" transform="translate(2880.1,86.7)"><polygon points="0,-29 29,0 0,29 -29,0"/><text y="4.4">I22</text></g>
<g id="I23" class="i" transform="translate(2995.3,86.7)"><polygon points="0,-29 29,0 0,29 -29,0"/><text y="4.4">I23</text></g>
<g id="I24" class="i" transform="translate(3110.5,86.7)"><polygon points="0,-29 29,0 0,29 -29,0"/><text y="4.4">I24</text></g>
<g id="I25" class="i" transform="translate(3225.7,86.7)"><polygon points="0,-29 29,0 0,29 -29,0"/><text y="4.4">I25</text></g>
</g>
</svg>
